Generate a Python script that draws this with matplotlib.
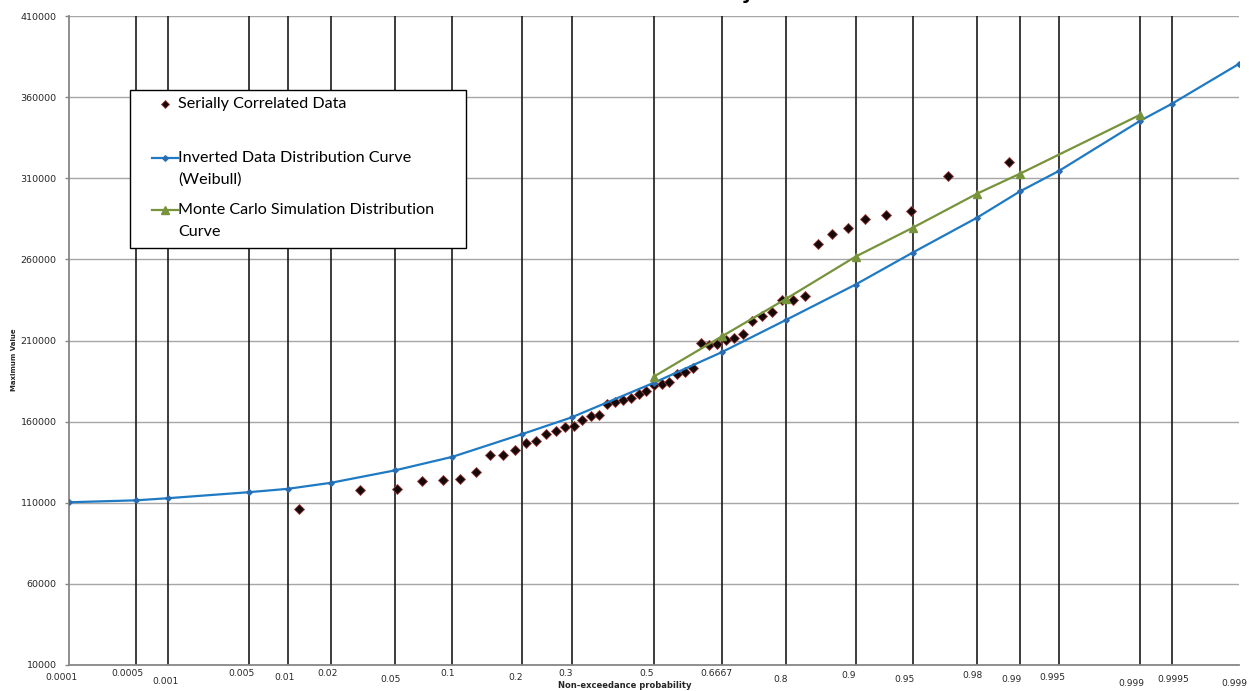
import matplotlib
matplotlib.use("Agg")
import matplotlib.pyplot as plt
from matplotlib.lines import Line2D
from matplotlib.patches import Rectangle
from statistics import NormalDist

# ---------------- data ----------------
grid_probs = [0.0001, 0.0005, 0.001, 0.005, 0.01, 0.02, 0.05, 0.1, 0.2, 0.3, 0.5,
              0.6667, 0.8, 0.9, 0.95, 0.98, 0.99, 0.995, 0.999, 0.9995, 0.9999]
grid_labels = ["0.0001", "0.0005", "0.001", "0.005", "0.01", "0.02", "0.05", "0.1",
               "0.2", "0.3", "0.5", "0.6667", "0.8", "0.9", "0.95", "0.98", "0.99",
               "0.995", "0.999", "0.9995", "0.999"]

weibull_probs = grid_probs
weibull_values = [110300, 111500, 112800, 116500, 118600, 122300, 130000, 138300,
                  152200, 162600, 184000, 202800, 222800, 244500, 264200, 285700,
                  301900, 314600, 345400, 355800, 380500]

mc_probs = [0.5, 0.6667, 0.8, 0.9, 0.95, 0.98, 0.99, 0.999]
mc_values = [187800, 212500, 235800, 261700, 279500, 300500, 312800, 349100]

data_probs = [0.012, 0.031, 0.051, 0.070, 0.090, 0.109, 0.129, 0.148, 0.168, 0.188,
              0.207, 0.227, 0.246, 0.266, 0.285, 0.305, 0.324, 0.344, 0.363, 0.383,
              0.402, 0.422, 0.441, 0.461, 0.480, 0.500, 0.520, 0.539, 0.559, 0.578,
              0.598, 0.617, 0.637, 0.656, 0.676, 0.695, 0.715, 0.734, 0.754, 0.773,
              0.793, 0.812, 0.832, 0.852, 0.871, 0.891, 0.910, 0.930, 0.949, 0.969,
              0.988]
data_values = [106000, 117700, 118300, 123200, 123800, 124500, 128800, 139200, 139200,
               142300, 146600, 147800, 152200, 154000, 156500, 157100, 160800, 163200,
               163800, 170600, 171800, 173100, 174300, 176800, 178600, 182300, 182900,
               184200, 189100, 190300, 192800, 208200, 207500, 207800, 210600, 211800,
               214300, 222300, 224800, 227800, 235200, 235200, 237700, 269700, 275800,
               279500, 285100, 287500, 290000, 311500, 320200]

y_ticks = list(range(10000, 410001, 50000))

# ---------------- layout (pixels) ----------------
W, H = 1249, 691
label_dy = [12, 9, 17, 9, 13, 8, 15, 9, 13, 8, 9, 8, 15, 10, 15, 10, 15, 13, 18, 14, 19]
label_dx = [-8, -9, -2, -7, -4, -3, -5, -5, -6, -6, -7, -5, -6, -7, -8, -5, -8, -7, -9, 2, -5]

nd = NormalDist()
z = lambda p: nd.inv_cdf(p)

fig = plt.figure(figsize=(W / 100, H / 100), dpi=100)
ax = fig.add_axes([69 / W, 26 / H, 1170 / W, 649 / H])

zmin, zmax = z(0.0001), z(0.9999)
ax.set_xlim(zmin, zmax)
ax.set_ylim(10000, 410000)

# horizontal gridlines
for yv in y_ticks[1:]:
    ax.axhline(yv, color="#a6a6a6", lw=1.0, zorder=1)
# vertical probability lines
for p in grid_probs[1:-1]:
    ax.axvline(z(p), color="#1a1a1a", lw=1.2, zorder=1.5)

# series
ax.plot([z(p) for p in data_probs], data_values, linestyle="none", marker="D",
        markersize=4.6, markerfacecolor="#140808", markeredgecolor="#9a3a3a",
        markeredgewidth=0.6, zorder=3)
ax.plot([z(p) for p in weibull_probs], weibull_values, color="#1f7ac4", lw=1.6,
        marker="D", markersize=2.8, markerfacecolor="#2a6db0",
        markeredgecolor="#2a6db0", zorder=4)
ax.plot([z(p) for p in mc_probs], mc_values, color="#77933c", lw=1.6,
        marker="^", markersize=6, markerfacecolor="#77933c",
        markeredgecolor="#77933c", zorder=5)

# axes styling
for s in ("top", "right"):
    ax.spines[s].set_visible(False)
for s in ("left", "bottom"):
    ax.spines[s].set_color("#868686")
    ax.spines[s].set_linewidth(1.3)
ax.set_xticks([])
ax.set_yticks(y_ticks)
ax.set_yticklabels([str(v) for v in y_ticks])
ax.tick_params(axis="y", direction="out", length=3, width=1, color="#868686",
               labelsize=6.8, labelcolor="#262626", pad=6)
ax.patch.set_visible(False)

# probability labels
for p, lab, dy, dx in zip(grid_probs, grid_labels, label_dy, label_dx):
    ax.annotate(lab, xy=(z(p), 0), xycoords=("data", "axes fraction"),
                xytext=(dx, -dy), textcoords="offset pixels", ha="center",
                va="center", fontsize=6.6, color="#262626", annotation_clip=False)

fig.text(625 / W, 1 - 686 / H, "Non-exceedance probability", ha="center",
         va="center", fontsize=6, fontweight="bold", color="#262626")
fig.text(14 / W, 1 - 360 / H, "Maximum Value", ha="center", va="center",
         rotation=90, fontsize=5, fontweight="bold", color="#262626")

# partially visible title (only the descender shows, as in the reference)
fig.text(754 / W, 1.0 + 1 / H, "Probability", ha="right", va="baseline", fontsize=14,
         fontweight="bold", color="#000000")

# ---------------- legend (manual) ----------------
def fx(x):
    return x / W

def fy(y):
    return 1 - y / H

fig.add_artist(Rectangle((fx(130), fy(248)), (466 - 130) / W, (248 - 90) / H,
                         transform=fig.transFigure, facecolor="white",
                         edgecolor="black", lw=1.0, zorder=10))
fig.add_artist(Line2D([fx(165)], [fy(104)], transform=fig.transFigure,
                      linestyle="none", marker="D", markersize=4.2,
                      markerfacecolor="#140808", markeredgecolor="#9a3a3a",
                      markeredgewidth=0.6, zorder=11))
fig.add_artist(Line2D([fx(152), fx(178)], [fy(158), fy(158)], transform=fig.transFigure,
                      color="#1f7ac4", lw=1.6, zorder=11))
fig.add_artist(Line2D([fx(165)], [fy(158)], transform=fig.transFigure,
                      linestyle="none", marker="D", markersize=2.8,
                      markerfacecolor="#2a6db0", markeredgecolor="#2a6db0", zorder=12))
fig.add_artist(Line2D([fx(152), fx(178)], [fy(210), fy(210)], transform=fig.transFigure,
                      color="#77933c", lw=1.6, zorder=11))
fig.add_artist(Line2D([fx(165)], [fy(210)], transform=fig.transFigure,
                      linestyle="none", marker="^", markersize=5.5,
                      markerfacecolor="#77933c", markeredgecolor="#77933c", zorder=12))

leg_font = dict(family=["Lato", "DejaVu Sans"], fontsize=11.6, color="#000000", zorder=12)
fig.text(fx(178), fy(104), "Serially Correlated Data", ha="left", va="center", **leg_font)
fig.text(fx(178), fy(169), "Inverted Data Distribution Curve\n(Weibull)", ha="left",
         va="center", linespacing=1.7, **leg_font)
fig.text(fx(178), fy(221), "Monte Carlo Simulation Distribution\nCurve", ha="left",
         va="center", linespacing=1.7, **leg_font)

fig.savefig("out.png", dpi=100)
